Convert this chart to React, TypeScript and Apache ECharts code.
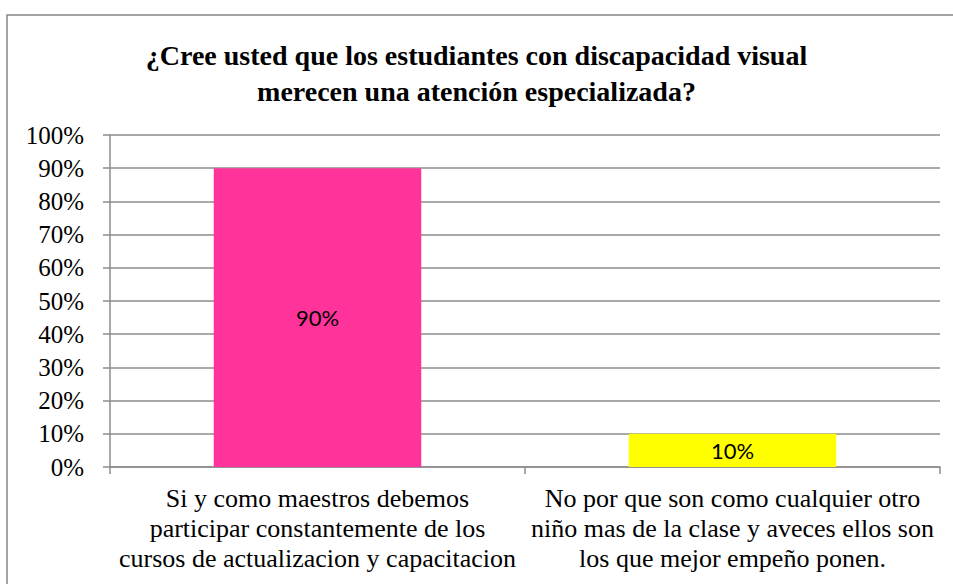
import React, { useEffect, useRef } from "react";
import * as echarts from "echarts";

const TITLE = "¿Cree usted que los estudiantes con discapacidad visual\nmerecen una atención especializada?";
const categories = [
  "Si y como maestros debemos\nparticipar constantemente de los\ncursos de actualizacion y capacitacion",
  "No por que son como cualquier otro\nniño mas de la clase y aveces ellos son\nlos que mejor empeño ponen.",
];
const values = [90, 10];
const barColors = ["#FF3399", "#FFFF00"];
const yMin = 0;
const yMax = 100;
const yInterval = 10;

const SERIF = "Liberation Serif, Times New Roman, serif";
const GRAY = "#8c8c8c";

export default function App() {
  const ref = useRef<HTMLDivElement>(null);
  useEffect(() => {
    if (!ref.current) return;
    const chart = echarts.init(ref.current, null, { renderer: "svg" });
    chart.setOption({
      animation: false,
      backgroundColor: "#ffffff",
      textStyle: { fontFamily: SERIF },
      graphic: [
        {
          type: "rect",
          shape: { x: 7, y: 15, width: 970, height: 600 },
          style: { fill: "none", stroke: "#868686", lineWidth: 1.5 },
          silent: true,
        },
      ],
      title: {
        text: TITLE,
        left: "center",
        top: 32,
        textStyle: {
          fontFamily: SERIF,
          fontSize: 28,
          fontWeight: "bold",
          color: "#000",
          lineHeight: 36,
        },
      },
      grid: { left: 110, right: 13, top: 135, bottom: 117, containLabel: false },
      xAxis: {
        type: "category",
        data: categories,
        axisLine: { show: true, lineStyle: { color: GRAY, width: 1.5 } },
        axisTick: { show: true, length: 7, lineStyle: { color: GRAY, width: 1.5 } },
        axisLabel: {
          interval: 0,
          margin: 16,
          fontFamily: SERIF,
          fontSize: 26,
          color: "#000",
          lineHeight: 30,
        },
      },
      yAxis: {
        type: "value",
        min: yMin,
        max: yMax,
        interval: yInterval,
        axisLine: { show: true, lineStyle: { color: GRAY, width: 1.5 } },
        axisTick: { show: true, length: 7, lineStyle: { color: GRAY, width: 1.5 } },
        splitLine: { show: true, lineStyle: { color: GRAY, width: 1.5 } },
        axisLabel: {
          formatter: "{value}%",
          margin: 26,
          fontFamily: SERIF,
          fontSize: 25,
          color: "#000",
        },
      },
      series: [
        {
          type: "bar",
          barWidth: "50%",
          data: values.map((v, i) => ({ value: v, itemStyle: { color: barColors[i] } })),
          label: {
            show: true,
            position: "inside",
            formatter: "{c}%",
            fontFamily: "Lato, sans-serif",
            fontSize: 22,
            color: "#000",
          },
        },
      ],
    });
    return () => chart.dispose();
  }, []);
  return (
    <div
      ref={ref}
      style={{ position: "fixed", left: 0, top: 0, width: 953, height: 584 }}
    />
  );
}
